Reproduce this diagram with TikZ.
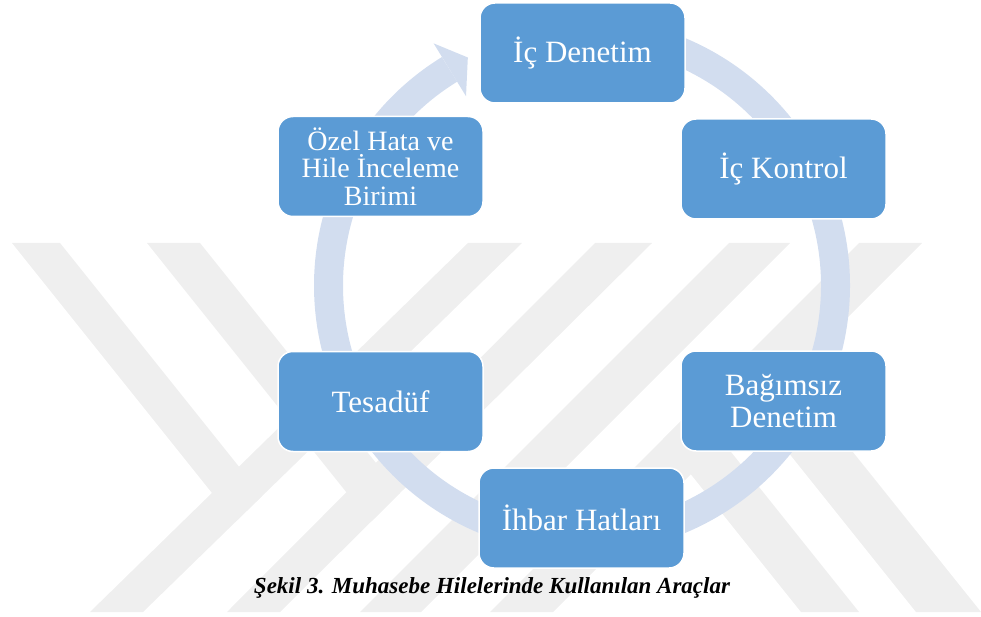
\documentclass[tikz,border=0pt]{standalone}
\usepackage{fontspec}
\setmainfont{Liberation Serif}
\definecolor{boxblue}{HTML}{5B9BD5}
\definecolor{ringblue}{HTML}{D2DDEF}
\definecolor{wmgray}{HTML}{EFEFEF}
\begin{document}
\begin{tikzpicture}[x=1pt,y=-1pt,
  stepbox/.style={draw=white, line width=1.5pt, fill=boxblue, rounded corners=15pt,
    minimum width=205pt, minimum height=100pt, text=white, align=center, inner sep=0pt,
    font=\fontsize{31}{32}\selectfont},
  smallbox/.style={stepbox, font=\fontsize{28}{27.5}\selectfont},
  ringline/.style={draw=ringblue, line width=29pt},
  wm/.style={fill=wmgray, draw=none},
  captionstyle/.style={font=\fontsize{23}{26}\selectfont\bfseries\itshape, inner sep=0pt, anchor=base}]
\useasboundingbox (0,0) rectangle (981,617);
% watermark
\begin{scope}
\clip (0,243) rectangle (981,612);
% "/" bands
\fill[wm] (90,612) -- (143,612) -- (522,243) -- (468,243) -- cycle;
\fill[wm] (227,612) -- (280,612) -- (652,243) -- (595,243) -- cycle;
\fill[wm] (729,243) -- (790,243) -- (421,612) -- (360,612) -- cycle;
\fill[wm] (859,243) -- (922,243) -- (553,612) -- (490,612) -- cycle;
% "\" bands
\fill[wm] (12,243) -- (60,243) -- (262.2,495.7) -- (235.2,522) -- cycle;
\fill[wm] (147,243) -- (200,243) -- (400,493) -- (370.4,522.3) -- cycle;
\fill[wm] (801,612) -- (859,612) -- (695,407) -- (662.8,439.2) -- cycle;
\fill[wm] (916,612) -- (981,612) -- (776,356) -- (740,392) -- cycle;
\end{scope}
% ring arrow
\coordinate (ctr) at (582,285.5);
\draw[ringline] (ctr) ++(-90:253.5) arc[start angle=-90, end angle=238.5, radius=253.5];
\fill[ringblue, shift={(ctr)}] (238.5:222) -- (243.4:255) -- (238.5:284) -- cycle;
% boxes
\node[stepbox] (n1) at (582.5,53) {İç Denetim};
\node[stepbox] (n2) at (783.5,169) {İç Kontrol};
\node[stepbox] (n3) at (783.5,401) {Bağımsız\\Denetim};
\node[stepbox] (n4) at (581.5,518) {İhbar Hatları};
\node[stepbox] (n5) at (380.5,401.5) {Tesadüf};
\node[smallbox] (n6) at (380.5,166.5) {Özel Hata ve\\Hile İnceleme\\Birimi};
% caption
\node[captionstyle] (cap) at (492,593) {Şekil 3. Muhasebe Hilelerinde Kullanılan Araçlar};
\end{tikzpicture}
\end{document}
